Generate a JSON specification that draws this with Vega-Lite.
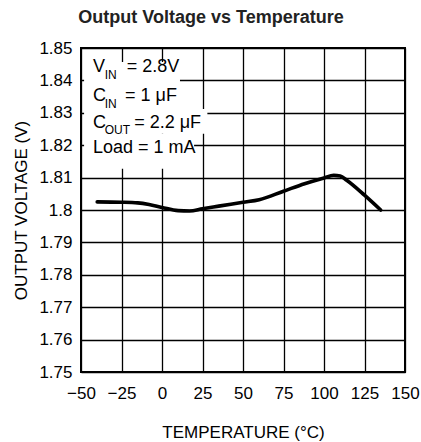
{
  "$schema": "https://vega.github.io/schema/vega-lite/v6.json",
  "width": 324,
  "height": 324,
  "autosize": {"type": "none"},
  "padding": {"left": 81, "top": 48, "right": 16, "bottom": 70},
  "background": "white",
  "title": {
    "text": "Output Voltage vs Temperature",
    "font": "Liberation Sans",
    "fontSize": 18,
    "fontWeight": "bold",
    "color": "#222222",
    "anchor": "middle",
    "frame": "group",
    "dx": -32,
    "offset": 12
  },
  "config": {
    "view": {"stroke": "#000000", "strokeWidth": 2},
    "axis": {
      "labelFont": "Liberation Sans",
      "labelFontSize": 17,
      "labelColor": "#000000",
      "labelOverlap": false,
      "labelFlush": false,
      "titleFont": "Liberation Sans",
      "titleFontSize": 17,
      "titleFontWeight": "normal",
      "titleColor": "#000000",
      "gridColor": "#000000",
      "gridWidth": 1.3,
      "gridOpacity": 1,
      "domain": false,
      "ticks": false
    }
  },
  "datasets": {
    "curve": [
      {"temp": -40, "vout": 1.8025},
      {"temp": -25, "vout": 1.8024},
      {"temp": -15, "vout": 1.8022},
      {"temp": -8, "vout": 1.8017},
      {"temp": 0, "vout": 1.8008},
      {"temp": 10, "vout": 1.7998},
      {"temp": 17, "vout": 1.7997},
      {"temp": 25, "vout": 1.8004},
      {"temp": 35, "vout": 1.8012},
      {"temp": 50, "vout": 1.8024},
      {"temp": 60, "vout": 1.8032},
      {"temp": 75, "vout": 1.8058},
      {"temp": 88, "vout": 1.8081},
      {"temp": 100, "vout": 1.8099},
      {"temp": 106, "vout": 1.8107},
      {"temp": 110, "vout": 1.8105},
      {"temp": 114, "vout": 1.8092},
      {"temp": 125, "vout": 1.8046},
      {"temp": 135, "vout": 1.8}
    ],
    "boxes": [
      {"t1": -48.1, "t2": 11.1, "v1": 1.8457, "v2": 1.8312},
      {"t1": -48.1, "t2": 28, "v1": 1.8312, "v2": 1.8235},
      {"t1": -48.1, "t2": 19.8, "v1": 1.8235, "v2": 1.8127}
    ],
    "notes": [
      {"t": -42.6, "v": 1.84259, "txt": "V", "kind": "main"},
      {"t": -35.4, "v": 1.84042, "txt": "IN", "kind": "sub"},
      {"t": -21.8, "v": 1.84259, "txt": "= 2.8V", "kind": "main"},
      {"t": -42.6, "v": 1.83364, "txt": "C", "kind": "main"},
      {"t": -35.4, "v": 1.83147, "txt": "IN", "kind": "sub"},
      {"t": -22.8, "v": 1.83364, "txt": "= 1 μF", "kind": "main"},
      {"t": -42.6, "v": 1.8253, "txt": "C", "kind": "main"},
      {"t": -35.4, "v": 1.82344, "txt": "OUT", "kind": "sub"},
      {"t": -17.2, "v": 1.8253, "txt": "= 2.2 μF", "kind": "main"},
      {"t": -42.6, "v": 1.81761, "txt": "Load = 1 mA", "kind": "main"}
    ]
  },
  "layer": [
    {
      "data": {"name": "curve"},
      "mark": {"type": "line", "color": "#000000", "strokeWidth": 3.6, "interpolate": "monotone", "strokeCap": "round"},
      "encoding": {
        "x": {
          "field": "temp",
          "type": "quantitative",
          "scale": {"domain": [-50, 150], "nice": false, "zero": false},
          "axis": {
            "values": [-50, -25, 0, 25, 50, 75, 100, 125, 150],
            "tickCount": 20,
            "format": "d",
            "labelOverlap": false,
            "labelPadding": 13,
            "labelBaseline": "top",
            "title": "TEMPERATURE (°C)",
            "titleBaseline": "alphabetic",
            "titleY": 65,
            "titleX": 162
          }
        },
        "y": {
          "field": "vout",
          "type": "quantitative",
          "scale": {"domain": [1.75, 1.85], "nice": false, "zero": false},
          "axis": {
            "values": [1.75, 1.76, 1.77, 1.78, 1.79, 1.8, 1.81, 1.82, 1.83, 1.84, 1.85],
            "tickCount": 20,
            "format": ".3~f",
            "labelOverlap": false,
            "labelPadding": 9,
            "title": "OUTPUT VOLTAGE (V)",
            "titleBaseline": "alphabetic",
            "titleAngle": -90,
            "titleX": -55,
            "titleY": 162
          }
        }
      }
    },
    {
      "data": {"name": "boxes"},
      "mark": {"type": "rect", "color": "#ffffff", "opacity": 1},
      "encoding": {
        "x": {"field": "t1", "type": "quantitative"},
        "x2": {"field": "t2"},
        "y": {"field": "v1", "type": "quantitative"},
        "y2": {"field": "v2"}
      }
    },
    {
      "data": {"name": "notes"},
      "transform": [{"filter": "datum.kind === 'main'"}],
      "mark": {"type": "text", "align": "left", "baseline": "alphabetic", "font": "Liberation Sans", "fontSize": 18, "color": "#000000"},
      "encoding": {
        "x": {"field": "t", "type": "quantitative"},
        "y": {"field": "v", "type": "quantitative"},
        "text": {"field": "txt"}
      }
    },
    {
      "data": {"name": "notes"},
      "transform": [{"filter": "datum.kind === 'sub'"}],
      "mark": {"type": "text", "align": "left", "baseline": "alphabetic", "font": "Liberation Sans", "fontSize": 12, "color": "#000000"},
      "encoding": {
        "x": {"field": "t", "type": "quantitative"},
        "y": {"field": "v", "type": "quantitative"},
        "text": {"field": "txt"}
      }
    }
  ]
}
